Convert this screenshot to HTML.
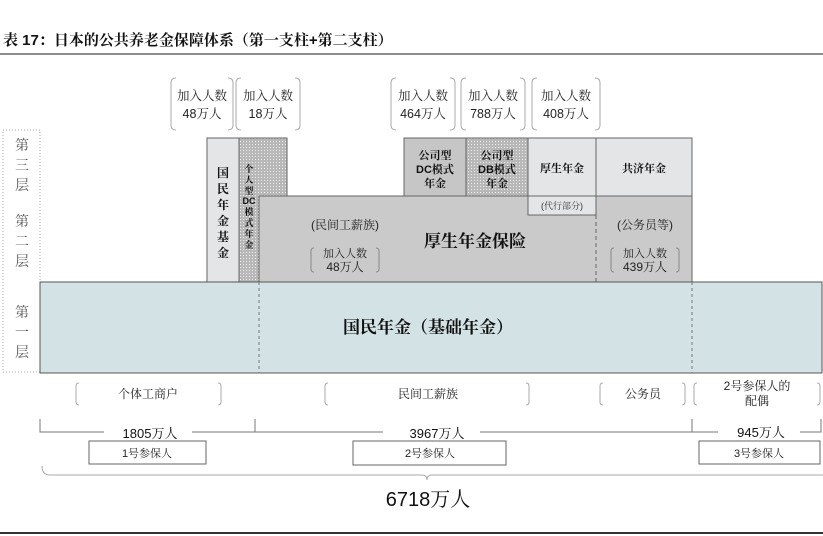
<!DOCTYPE html>
<html><head><meta charset="utf-8"><style>
html,body{margin:0;padding:0;background:#fff;}
svg{display:block;font-family:"Liberation Sans","Noto Serif CJK SC",serif;}
</style></head><body>
<svg width="823" height="536" viewBox="0 0 823 536" xmlns="http://www.w3.org/2000/svg">
<defs>
<pattern id="dots" width="3" height="3" patternUnits="userSpaceOnUse">
<rect width="3" height="3" fill="#b8b8b8"/><rect width="1" height="1" fill="#eee"/>
</pattern>
</defs>
<text x="3" y="45" font-size="15" font-weight="bold" fill="#111">表 17：日本的公共养老金保障体系（第一支柱+第二支柱）</text>
<line x1="0" y1="54" x2="823" y2="54" stroke="#666" stroke-width="1.5"/>

<g fill="none" stroke="#aaa" stroke-width="1">
<path d="M176 78 q-5 0 -5 5 v42 q0 5 5 5"/><path d="M228 78 q5 0 5 5 v42 q0 5 -5 5"/>
<path d="M241 78 q-5 0 -5 5 v42 q0 5 5 5"/><path d="M295 78 q5 0 5 5 v42 q0 5 -5 5"/>
<path d="M396 78 q-5 0 -5 5 v42 q0 5 5 5"/><path d="M450 78 q5 0 5 5 v42 q0 5 -5 5"/>
<path d="M466 78 q-5 0 -5 5 v42 q0 5 5 5"/><path d="M520 78 q5 0 5 5 v42 q0 5 -5 5"/>
<path d="M537 78 q-5 0 -5 5 v42 q0 5 5 5"/><path d="M595 78 q5 0 5 5 v42 q0 5 -5 5"/>
</g>
<g font-size="12.5" fill="#222" text-anchor="middle">
<text x="202" y="100">加入人数</text><text x="202" y="118">48万人</text>
<text x="268" y="100">加入人数</text><text x="268" y="118">18万人</text>
<text x="423" y="100">加入人数</text><text x="423" y="118">464万人</text>
<text x="493" y="100">加入人数</text><text x="493" y="118">788万人</text>
<text x="566" y="100">加入人数</text><text x="566" y="118">408万人</text>
</g>

<rect x="3" y="130" width="37" height="242" fill="none" stroke="#aaa" stroke-dasharray="1,2"/>
<g font-size="14" fill="#555" text-anchor="middle">
<text x="22" y="150">第</text><text x="22" y="170">三</text><text x="22" y="190">层</text>
<text x="22" y="226">第</text><text x="22" y="246">二</text><text x="22" y="266">层</text>
<text x="22" y="317">第</text><text x="22" y="337">一</text><text x="22" y="357">层</text>
</g>

<rect x="207" y="138" width="32" height="144" fill="#e4e5e7" stroke="#666"/>
<rect x="239" y="138" width="48" height="144" fill="url(#dots)" stroke="#666"/>
<g font-size="12" font-weight="bold" fill="#111" text-anchor="middle">
<text x="223" y="177">国</text><text x="223" y="193">民</text><text x="223" y="209">年</text><text x="223" y="225">金</text><text x="223" y="241">基</text><text x="223" y="257">金</text>
</g>
<g font-size="9" font-weight="bold" fill="#111" text-anchor="middle">
<text x="249" y="172">个</text><text x="249" y="183">人</text><text x="249" y="194">型</text><text x="249" y="204">DC</text><text x="249" y="215">模</text><text x="249" y="226">式</text><text x="249" y="237">年</text><text x="249" y="248">金</text>
</g>

<rect x="404" y="138" width="62" height="58" fill="#c6c6c6" stroke="#666"/>
<rect x="466" y="138" width="62" height="58" fill="url(#dots)" stroke="#666"/>
<rect x="528" y="138" width="68" height="58" fill="#e4e5e7" stroke="#666"/>
<rect x="596" y="138" width="96" height="58" fill="#e4e5e7" stroke="#666"/>
<g font-size="11" font-weight="bold" fill="#111" text-anchor="middle">
<text x="435" y="159">公司型</text><text x="435" y="173">DC模式</text><text x="435" y="187">年金</text>
<text x="497" y="159">公司型</text><text x="497" y="173">DB模式</text><text x="497" y="187">年金</text>
<text x="562" y="172">厚生年金</text><text x="644" y="172">共济年金</text>
</g>

<rect x="259" y="196" width="433" height="86" fill="#cacaca" stroke="#666"/>
<rect x="528" y="196" width="68" height="19" fill="#e4e5e7" stroke="#666"/>
<text x="562" y="209" font-size="9" fill="#333" text-anchor="middle">(代行部分)</text>
<line x1="596" y1="215" x2="596" y2="282" stroke="#666" stroke-dasharray="4,3"/>
<g fill="#222" text-anchor="middle">
<text x="345" y="229" font-size="12">(民间工薪族)</text>
<text x="345" y="257" font-size="11">加入人数</text><text x="345" y="271" font-size="12">48万人</text>
<text x="475" y="247" font-size="17" font-weight="bold" fill="#111">厚生年金保险</text>
<text x="645" y="229" font-size="12">(公务员等)</text>
<text x="645" y="257" font-size="11">加入人数</text><text x="645" y="271" font-size="12">439万人</text>
</g>
<g fill="none" stroke="#888">
<path d="M314 248 q-3 0 -3 3 v18 q0 3 3 3"/><path d="M376 248 q3 0 3 3 v18 q0 3 -3 3"/>
<path d="M614 248 q-3 0 -3 3 v18 q0 3 3 3"/><path d="M676 248 q3 0 3 3 v18 q0 3 -3 3"/>
</g>

<rect x="40" y="282" width="782" height="91" fill="#d3e2e4" stroke="#555"/>
<line x1="259" y1="282" x2="259" y2="373" stroke="#777" stroke-dasharray="3,3"/>
<line x1="692" y1="282" x2="692" y2="373" stroke="#777" stroke-dasharray="3,3"/>
<text x="428" y="333" font-size="17" font-weight="bold" fill="#111" text-anchor="middle">国民年金（基础年金）</text>

<g fill="none" stroke="#aaa">
<path d="M79 383 q-3 0 -3 3 v16 q0 3 3 3"/><path d="M218 383 q3 0 3 3 v16 q0 3 -3 3"/>
<path d="M328 383 q-3 0 -3 3 v16 q0 3 3 3"/><path d="M526 383 q3 0 3 3 v16 q0 3 -3 3"/>
<path d="M603 383 q-3 0 -3 3 v16 q0 3 3 3"/><path d="M682 383 q3 0 3 3 v16 q0 3 -3 3"/>
<path d="M697 383 q-3 0 -3 3 v16 q0 3 3 3"/><path d="M817 383 q3 0 3 3 v16 q0 3 -3 3"/>
</g>
<g font-size="12" fill="#222" text-anchor="middle">
<text x="148" y="398">个体工商户</text><text x="428" y="398">民间工薪族</text>
<text x="643" y="398">公务员</text><text x="757" y="390">2号参保人的</text><text x="757" y="405">配偶</text>
</g>
<g stroke="#777" fill="none">
<path d="M40 419 v13 h64"/><path d="M192 432 h191"/><path d="M255 419 v13"/>
<path d="M480 432 h212 v-13"/><path d="M692 432 h26"/><path d="M800 432 h21 v-13"/>
</g>
<g font-size="13" fill="#111" text-anchor="middle">
<text x="150" y="438">1805万人</text><text x="437" y="438">3967万人</text><text x="761" y="437">945万人</text>
</g>
<g fill="#fff" stroke="#666">
<rect x="89" y="441" width="117" height="23"/><rect x="353" y="441" width="153" height="24"/><rect x="699" y="441" width="121" height="23"/>
</g>
<g font-size="11" fill="#222" text-anchor="middle">
<text x="147" y="457">1号参保人</text><text x="430" y="457">2号参保人</text><text x="759" y="457">3号参保人</text>
</g>
<path d="M42 466 q0 9 8 9 h372 q5 0 5 5 q0 -5 5 -5 h389 q8 0 8 -9" fill="none" stroke="#aaa"/>
<text x="428" y="506" font-size="20" fill="#111" text-anchor="middle">6718万人</text>
<line x1="0" y1="533" x2="823" y2="533" stroke="#333" stroke-width="2"/>
</svg>
</body></html>
